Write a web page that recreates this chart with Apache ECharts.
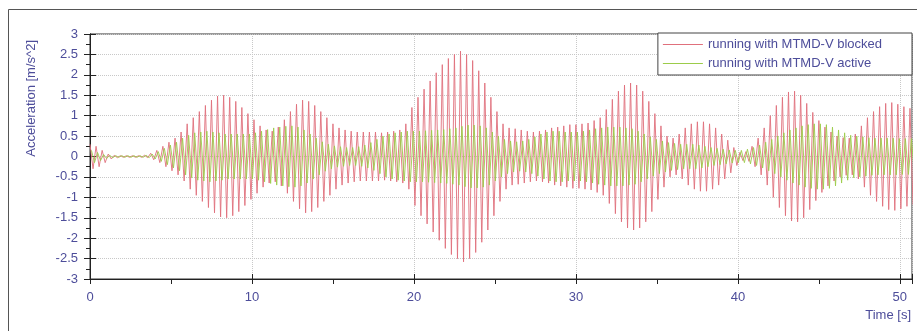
<!DOCTYPE html>
<html>
<head>
<meta charset="utf-8">
<script src="https://cdn.jsdelivr.net/npm/echarts@6/dist/echarts.min.js"></script>
<style>
html, body { margin: 0; padding: 0; background: #fff; }
#main { width: 917px; height: 331px; }
</style>
</head>
<body>
<div id="main"></div>
<script>
// peak amplitude of each oscillation cycle (one cycle = 0.375 s)
var cycleTime = 0.375;
var redPeaks = [
	0.3, 0.25, 0.15, 0.06, 0.03, 0.02, 0.02, 0.02,
	0.02, 0.03, 0.08, 0.15, 0.25, 0.35, 0.45, 0.6,
	0.8, 0.95, 1.1, 1.25, 1.38, 1.48, 1.5, 1.45,
	1.35, 1.2, 1.05, 0.9, 0.75, 0.65, 0.62, 0.72,
	0.9, 1.1, 1.28, 1.38, 1.35, 1.25, 1.1, 0.95,
	0.8, 0.7, 0.65, 0.62, 0.6, 0.6, 0.6, 0.6,
	0.58, 0.6, 0.62, 0.65, 0.8, 1.2, 1.45, 1.65,
	1.85, 2.05, 2.25, 2.4, 2.5, 2.58, 2.5, 2.35,
	2.1, 1.8, 1.45, 1.1, 0.8, 0.7, 0.68, 0.65,
	0.62, 0.6, 0.62, 0.65, 0.7, 0.72, 0.75, 0.78,
	0.78, 0.8, 0.82, 0.88, 0.95, 1.15, 1.4, 1.6,
	1.75, 1.8, 1.75, 1.6, 1.35, 1.05, 0.75, 0.5,
	0.45, 0.55, 0.7, 0.8, 0.85, 0.85, 0.8, 0.7,
	0.55, 0.4, 0.22, 0.1, 0.12, 0.25, 0.45, 0.7,
	1.0, 1.25, 1.45, 1.58, 1.6, 1.5, 1.3, 1.08,
	0.88, 0.72, 0.6, 0.5, 0.46, 0.45, 0.55, 0.75,
	0.95, 1.1, 1.22, 1.3, 1.32, 1.28, 1.22, 1.18
];
var greenPeaks = [
	0.15, 0.1, 0.05, 0.03, 0.02, 0.02, 0.02, 0.02,
	0.02, 0.03, 0.06, 0.12, 0.2, 0.28, 0.35, 0.45,
	0.52, 0.58, 0.6, 0.62, 0.6, 0.58, 0.55, 0.55,
	0.55, 0.55, 0.55, 0.58, 0.62, 0.66, 0.7, 0.72,
	0.74, 0.75, 0.72, 0.65, 0.55, 0.45, 0.36, 0.3,
	0.26, 0.24, 0.22, 0.22, 0.24, 0.28, 0.34, 0.42,
	0.5, 0.55, 0.58, 0.6, 0.62, 0.62, 0.62, 0.63,
	0.64, 0.65, 0.66, 0.68, 0.7, 0.74, 0.77, 0.77,
	0.75, 0.7, 0.6, 0.5, 0.42, 0.38, 0.36, 0.38,
	0.42, 0.48, 0.55, 0.6, 0.62, 0.62, 0.6, 0.6,
	0.6, 0.62, 0.65, 0.68, 0.7, 0.72, 0.72, 0.72,
	0.7, 0.68, 0.62, 0.55, 0.48, 0.42, 0.38, 0.34,
	0.32, 0.3, 0.3, 0.3, 0.28, 0.25, 0.22, 0.2,
	0.18, 0.16, 0.15, 0.15, 0.18, 0.22, 0.28, 0.35,
	0.42, 0.5, 0.58, 0.65, 0.7, 0.75, 0.78, 0.8,
	0.8, 0.78, 0.72, 0.65, 0.58, 0.52, 0.5, 0.48,
	0.46, 0.45, 0.45, 0.45, 0.45, 0.44, 0.44, 0.44
];
var seriesNames = ["running with MTMD-V blocked", "running with MTMD-V active"];
var textColor = "#4d4d9a";

// each cycle gives one positive and one negative peak
function makeWave(peaks, phase) {
	var pts = [];
	for (var i = 0; i < peaks.length; i++) {
		var t = i * cycleTime + phase;
		pts.push([t, peaks[i]]);
		pts.push([t + cycleTime / 2, -peaks[i]]);
	}
	return pts;
}

var xBase = {
	type: 'value', min: 0, max: 50.75, interval: 10,
	axisLine: { show: true, onZero: false, lineStyle: { color: '#222', width: 1 } },
	minorTick: { show: true, splitNumber: 2, length: 5, lineStyle: { color: '#222' } },
	minorSplitLine: { show: false }
};
var yBase = {
	type: 'value', min: -3, max: 3, interval: 0.5,
	axisLine: { show: true, lineStyle: { color: '#222', width: 1 } },
	minorTick: { show: true, splitNumber: 2, length: 4, lineStyle: { color: '#222' } }
};

var myChart = echarts.init(document.getElementById('main'));
var option = {
	animation: false,
	backgroundColor: '#fff',
	grid: { left: 90, right: 5, top: 34, bottom: 52, show: true, borderColor: '#333', borderWidth: 1 },
	legend: {
		orient: 'vertical', right: 5, top: 33,
		data: seriesNames,
		icon: 'rect', itemWidth: 40, itemHeight: 1, itemGap: 6,
		padding: [5, 30, 5, 5],
		backgroundColor: '#fff', borderColor: '#444', borderWidth: 1,
		textStyle: { color: textColor, fontSize: 13, fontFamily: 'Liberation Sans' }
	},
	xAxis: [
		Object.assign({}, xBase, {
			axisTick: { show: true, length: 5, lineStyle: { color: '#222' } },
			axisLabel: {
				color: textColor, fontSize: 13, fontFamily: 'Liberation Sans', margin: 12,
				formatter: function (v) { return v % 10 === 0 ? String(v) : ''; }
			},
			splitLine: { show: true, lineStyle: { color: '#c8c8c8', type: 'dotted' } }
		}),
		Object.assign({}, xBase, {
			position: 'bottom',
			axisTick: { show: true, inside: true, length: 5, lineStyle: { color: '#222' } },
			minorTick: { show: true, splitNumber: 2, length: -5, lineStyle: { color: '#222' } },
			axisLabel: { show: false },
			splitLine: { show: false }
		})
	],
	yAxis: [
		Object.assign({}, yBase, {
			axisTick: { show: true, length: 6, lineStyle: { color: '#222' } },
			axisLabel: { color: textColor, fontSize: 13, fontFamily: 'Liberation Sans', margin: 12 },
			splitLine: { show: true, lineStyle: { color: '#c8c8c8', type: 'dotted' } }
		}),
		Object.assign({}, yBase, {
			position: 'left',
			axisTick: { show: true, inside: true, length: 6, lineStyle: { color: '#222' } },
			minorTick: { show: true, splitNumber: 2, length: -4, lineStyle: { color: '#222' } },
			axisLabel: { show: false },
			splitLine: { show: false }
		})
	],
	graphic: [
		{ type: 'line', shape: { x1: 8.5, y1: 9.5, x2: 917, y2: 9.5 }, style: { stroke: '#555', lineWidth: 1 }, silent: true },
		{ type: 'line', shape: { x1: 8.5, y1: 9.5, x2: 8.5, y2: 331 }, style: { stroke: '#555', lineWidth: 1 }, silent: true },
		{
			type: 'text', left: 25, top: 40, rotation: Math.PI / 2, silent: true,
			style: { text: 'Acceleration [m/s^2]', fill: textColor, font: '13px "Liberation Sans"' }
		},
		{
			type: 'text', right: 6, top: 309, silent: true,
			style: { text: 'Time [s]', fill: textColor, font: '13px "Liberation Sans"' }
		}
	],
	series: [
		{
			name: seriesNames[0], type: 'line', showSymbol: false, data: makeWave(redPeaks, 0),
			itemStyle: { color: '#e0707c' },
			lineStyle: { color: '#e0707c', width: 1, opacity: 0.9 }
		},
		{
			name: seriesNames[1], type: 'line', showSymbol: false, data: makeWave(greenPeaks, 0.09),
			itemStyle: { color: '#9ccc4a' },
			lineStyle: { color: '#9ccc4a', width: 1, opacity: 0.9 }
		}
	]
};
myChart.setOption(option);
</script>
</body>
</html>
